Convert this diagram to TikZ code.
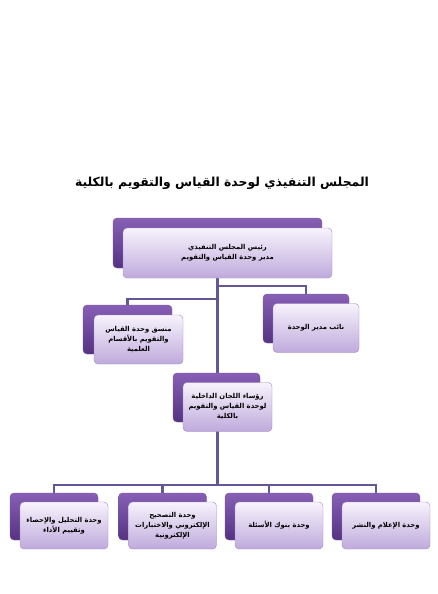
\documentclass[tikz,border=0pt]{standalone}
\usepackage{fontspec}
\newfontfamily\arabicfont[Script=Arabic]{DejaVu Sans}
\TeXXeTstate=1
\usetikzlibrary{calc, backgrounds}
\definecolor{backtop}{HTML}{8760B6}
\definecolor{backbot}{HTML}{553282}
\definecolor{facetop}{HTML}{F7F3FC}
\definecolor{facebot}{HTML}{BFAADC}
\definecolor{faceline}{HTML}{9C8AC2}
\definecolor{linkcol}{HTML}{655797}
\newcommand{\ar}[1]{\beginR #1\endR}

\begin{document}
\begin{tikzpicture}[x=1pt, y=-1pt,
    every node/.style={font=\arabicfont\bfseries\fontsize{6.8}{10}\selectfont},
    backbox/.style={rectangle, rounded corners=4pt, top color=backtop, bottom color=backbot,
                    draw=backbot!80, minimum width=88pt, minimum height=47pt, inner sep=0pt},
    facebox/.style={rectangle, rounded corners=4pt, top color=facetop, bottom color=facebot,
                    draw=faceline, minimum width=88pt, minimum height=47pt, align=center, inner sep=2pt},
    link/.style={draw=linkcol, line width=2.2pt}
]
    \useasboundingbox (0,0) rectangle (437,594);

    \node[font=\arabicfont\bfseries\fontsize{12.4}{14}\selectfont] (title) at (222,183)
        {\ar{المجلس التنفيذي لوحدة القياس والتقويم بالكلية}};

    % back boxes
    \node[backbox, minimum width=209pt, minimum height=50pt] (headb) at (217.5,243) {};
    \node[backbox, minimum width=89pt, minimum height=49pt] (coordb) at (127.5,329.5) {};
    \node[backbox, minimum width=86pt, minimum height=49pt] (deputyb) at (306,318.5) {};
    \node[backbox, minimum width=87pt, minimum height=49pt] (chairb) at (216.5,397.5) {};
    \node[backbox] (statb) at (54,516.5) {};
    \node[backbox] (gradeb) at (162.5,516.5) {};
    \node[backbox] (bankb) at (269,516.5) {};
    \node[backbox] (mediab) at (376,516.5) {};

    % junctions
    \coordinate (jr) at (217.5,286);
    \coordinate (jl) at (217.5,299);
    \coordinate (jb) at (217.5,485);

    \begin{scope}[on background layer]
        \draw[link] (headb) -- (jb);
        \draw[link] (jr) -| (deputyb.north);
        \draw[link] (jl) -| (coordb.north);
        \draw[link] (jb) -| (statb.north);
        \draw[link] (jb) -| (gradeb.north);
        \draw[link] (jb) -| (bankb.north);
        \draw[link] (jb) -| (mediab.north);
    \end{scope}

    % front boxes
    \node[facebox, minimum width=209pt, minimum height=50pt] (head) at ($(headb)+(10,10)$)
        {\ar{رئيس المجلس التنفيذي}\\\ar{مدير وحدة القياس والتقويم}};
    \node[facebox, minimum width=89pt, minimum height=49pt] (coord) at ($(coordb)+(11,10)$)
        {\ar{منسق وحدة القياس}\\\ar{والتقويم بالأقسام}\\\ar{العلمية}};
    \node[facebox, minimum width=86pt, minimum height=49pt] (deputy) at ($(deputyb)+(10,9.5)$)
        {\ar{نائب مدير الوحدة}};
    \node[facebox, minimum width=89pt, minimum height=49pt] (chair) at ($(chairb)+(11,9.5)$)
        {\ar{رؤساء اللجان الداخلية}\\\ar{لوحدة القياس والتقويم}\\\ar{بالكلية}};
    \node[facebox] (stat) at ($(statb)+(10,9)$)
        {\ar{وحدة التحليل والإحصاء}\\\ar{وتقييم الأداء}};
    \node[facebox] (grade) at ($(gradeb)+(10,9)$)
        {\ar{وحدة التصحيح}\\\ar{الإلكتروني والاختبارات}\\\ar{الإلكترونية}};
    \node[facebox] (bank) at ($(bankb)+(10,9)$)
        {\ar{وحدة بنوك الأسئلة}};
    \node[facebox] (media) at ($(mediab)+(10,9)$)
        {\ar{وحدة الإعلام والنشر}};
\end{tikzpicture}
\end{document}
